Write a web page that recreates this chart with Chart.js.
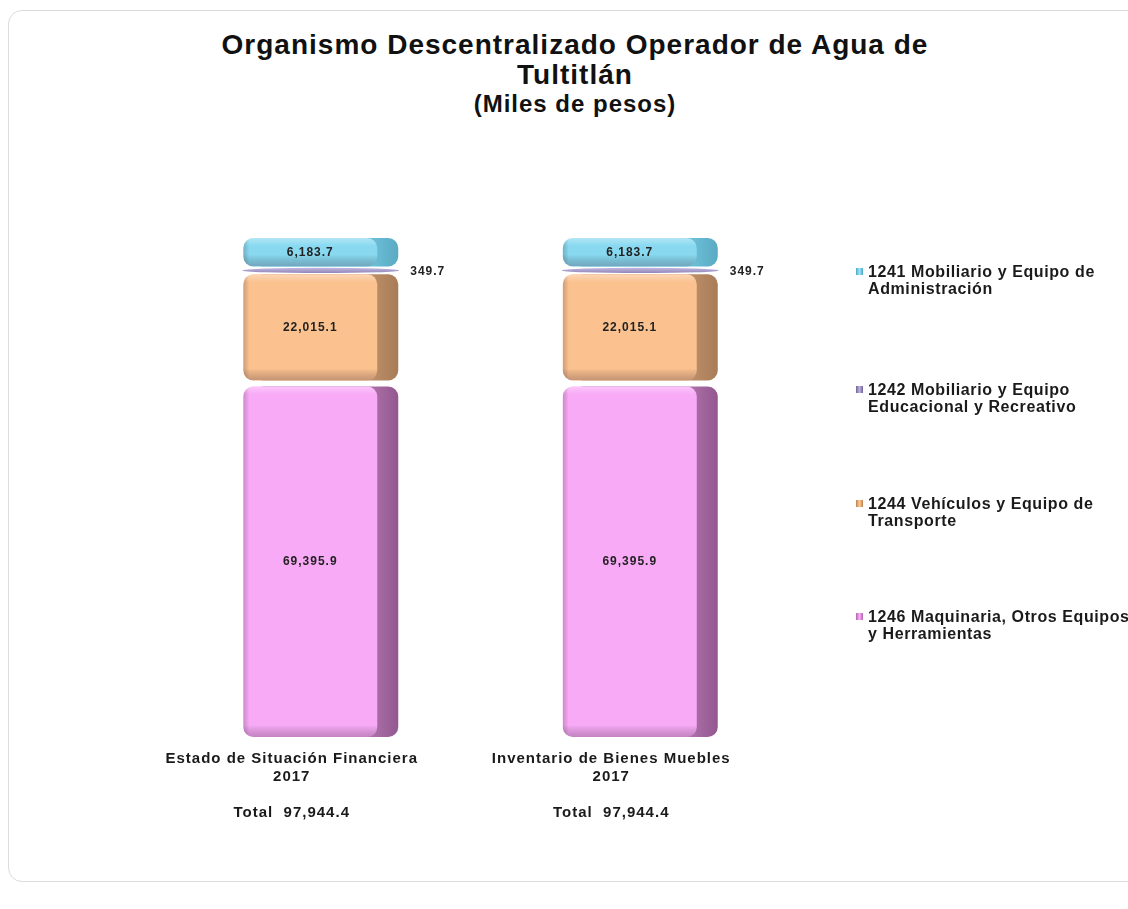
<!DOCTYPE html>
<html>
<head>
<meta charset="utf-8">
<script src="https://cdn.jsdelivr.net/npm/chart.js@4.4.0/dist/chart.umd.min.js"></script>
<style>
  html, body { margin: 0; padding: 0; background: #fff; overflow: hidden; }
  #wrap { position: relative; width: 1128px; height: 909px; font-family: "Liberation Sans", Arial, sans-serif; }
  #card { position: absolute; left: 8px; top: 10px; width: 1200px; height: 870px;
          border: 1px solid #dcdcdc; border-radius: 14px; }
  #chart { position: absolute; left: 0; top: 0; }
  .title { position: absolute; left: 175px; width: 800px; text-align: center; font-weight: bold;
           color: #111; letter-spacing: 1px; white-space: nowrap; }
  #t1 { top: 30px; font-size: 28px; line-height: 30px; }
  #t2 { top: 91px; font-size: 24px; line-height: 26px; }
  .legend-item { position: absolute; left: 856px; font-weight: bold; font-size: 16px;
                 letter-spacing: 0.6px; line-height: 17px; color: #1a1a1a; }
  .legend-item .box { position: absolute; left: 0; top: 5px; width: 7px; height: 7px; }
  .legend-item .txt { padding-left: 12px; white-space: nowrap; }
</style>
</head>
<body>
<div id="wrap">
  <div id="card"></div>
  <div class="title" id="t1"></div>
  <div class="title" id="t2"></div>
  <canvas id="chart" width="1128" height="909"></canvas>
  <div id="legend"></div>
</div>
<script>
const titleLines = ['Organismo Descentralizado Operador de Agua de', 'Tultitlán'];
const subtitle = '(Miles de pesos)';

const categories = ['Estado de Situación Financiera', 'Inventario de Bienes Muebles'];
const years = ['2017', '2017'];

// values in miles de pesos, stacked bottom -> top
const maquinaria = [69395.9, 69395.9];     // 1246
const vehiculos = [22015.1, 22015.1];      // 1244
const educacional = [349.7, 349.7];        // 1242
const administracion = [6183.7, 6183.7];   // 1241

const seriesNames = [
  ['1241 Mobiliario y Equipo de', 'Administración'],
  ['1242 Mobiliario y Equipo', 'Educacional y Recreativo'],
  ['1244 Vehículos y Equipo de', 'Transporte'],
  ['1246 Maquinaria, Otros Equipos', 'y Herramientas']
];

const FONT = '"Liberation Sans", Arial, sans-serif';
const fmt = v => v.toLocaleString('en-US', { minimumFractionDigits: 1, maximumFractionDigits: 1 });
const totals = categories.map((c, i) => maquinaria[i] + vehiculos[i] + educacional[i] + administracion[i]);

document.getElementById('t1').innerHTML = titleLines.join('<br>');
document.getElementById('t2').textContent = subtitle;

const DEPTH = 21;
const GAP = 3;

// draws the fake 3D stacked boxes from the bar elements
const bars3d = {
  id: 'bars3d',
  afterDatasetsDraw(chart) {
    const ctx = chart.ctx;
    const area = chart.chartArea;
    chart.data.datasets.forEach((ds, di) => {
      const meta = chart.getDatasetMeta(di);
      meta.data.forEach((bar, i) => {
        const { x, y, base, width } = bar.getProps(['x', 'y', 'base', 'width'], true);
        const left = x - width / 2;
        let top = Math.min(y, base);
        let bottom = Math.max(y, base);
        ctx.save();
        ctx.letterSpacing = '1px';
        if (ds.thin) {
          const cy = (top + bottom) / 2;
          const g = ctx.createLinearGradient(0, cy - 3, 0, cy + 3);
          g.addColorStop(0, ds.front);
          g.addColorStop(1, ds.side);
          ctx.fillStyle = g;
          ctx.beginPath();
          ctx.ellipse(x, cy, width / 2 + 1, 2.6, 0, 0, Math.PI * 2);
          ctx.fill();
          ctx.fillStyle = '#222';
          ctx.font = 'bold 12px ' + FONT;
          ctx.textAlign = 'left';
          ctx.textBaseline = 'middle';
          ctx.fillText(fmt(ds.data[i]), left + width + 12, cy + 1);
          ctx.restore();
          return;
        }
        if (top > area.top + 1) top += GAP;
        if (bottom < area.bottom - 1) bottom -= GAP;
        const h = bottom - top;
        const r = Math.min(10, h / 2);
        const fw = width - DEPTH;

        // side face
        const sg = ctx.createLinearGradient(left + fw - 6, 0, left + width, 0);
        sg.addColorStop(0, ds.side);
        sg.addColorStop(1, ds.sideDark);
        ctx.fillStyle = sg;
        ctx.beginPath();
        ctx.roundRect(left + 10, top, width - 10, h, r);
        ctx.fill();

        // front face
        ctx.beginPath();
        ctx.roundRect(left, top, fw, h, r);
        ctx.fillStyle = ds.front;
        ctx.fill();
        ctx.save();
        ctx.clip();
        const bg = ctx.createLinearGradient(0, bottom - 12, 0, bottom);
        bg.addColorStop(0, 'rgba(0,0,0,0)');
        bg.addColorStop(1, 'rgba(60,30,60,0.28)');
        ctx.fillStyle = bg;
        ctx.fillRect(left, bottom - 12, fw, 12);
        const lg = ctx.createLinearGradient(left, 0, left + 6, 0);
        lg.addColorStop(0, 'rgba(60,30,60,0.22)');
        lg.addColorStop(1, 'rgba(0,0,0,0)');
        ctx.fillStyle = lg;
        ctx.fillRect(left, top, 6, h);
        const tg = ctx.createLinearGradient(0, top, 0, top + 8);
        tg.addColorStop(0, 'rgba(255,255,255,0.35)');
        tg.addColorStop(1, 'rgba(255,255,255,0)');
        ctx.fillStyle = tg;
        ctx.fillRect(left, top, fw, 8);
        ctx.restore();

        ctx.fillStyle = '#222';
        ctx.font = 'bold 12px ' + FONT;
        ctx.textAlign = 'center';
        ctx.textBaseline = 'middle';
        ctx.fillText(fmt(ds.data[i]), left + fw / 2, (top + bottom) / 2);
        ctx.restore();
      });
    });
  }
};

const spacing = {
  id: 'spacing',
  beforeLayout(chart) { chart.ctx.letterSpacing = '1px'; },
  beforeDraw(chart) { chart.ctx.letterSpacing = '1px'; }
};

const clear = 'rgba(0,0,0,0)';
new Chart(document.getElementById('chart'), {
  type: 'bar',
  data: {
    labels: categories,
    datasets: [
      { label: seriesNames[3].join(' '), data: maquinaria, backgroundColor: clear,
        front: '#f8aaf6', side: '#ad70aa', sideDark: '#93588f' },
      { label: seriesNames[2].join(' '), data: vehiculos, backgroundColor: clear,
        front: '#fbc18f', side: '#bd8f68', sideDark: '#a77c58' },
      { label: seriesNames[1].join(' '), data: educacional, backgroundColor: clear, thin: true,
        front: '#c7bce3', side: '#8d82b5', sideDark: '#8d82b5' },
      { label: seriesNames[0].join(' '), data: administracion, backgroundColor: clear,
        front: '#88d9f0', side: '#6cc0d8', sideDark: '#5aaac2' }
    ]
  },
  options: {
    responsive: false,
    animation: false,
    barThickness: 155,
    layout: { padding: { left: 161, right: 328, top: 238, bottom: 74 } },
    plugins: {
      legend: { display: false },
      tooltip: { enabled: false }
    },
    scales: {
      x: {
        stacked: true,
        grid: { display: false, drawTicks: false },
        border: { display: false },
        ticks: {
          autoSkip: false,
          maxRotation: 0,
          padding: 13,
          labelOffset: -29,
          color: '#1a1a1a',
          font: { family: FONT, size: 15, weight: 'bold', lineHeight: 1.2 },
          callback: (v, i) => [categories[i], years[i], '', 'Total  ' + fmt(totals[i])]
        }
      },
      y: {
        stacked: true,
        display: false,
        min: 0,
        max: Math.max(...totals)
      }
    }
  },
  plugins: [spacing, bars3d]
});

// legend, top to bottom as in the original
const legendTops = [263, 381, 495, 608];
const legendColors = [['#9fe3f5', '#4aa9c8'], ['#bdb2dc', '#6f6398'], ['#fcc99a', '#c0804a'], ['#f8b2f4', '#b461b0']];
const legendEl = document.getElementById('legend');
seriesNames.forEach((lines, i) => {
  const item = document.createElement('div');
  item.className = 'legend-item';
  item.style.top = legendTops[i] + 'px';
  const box = document.createElement('span');
  box.className = 'box';
  box.style.background = 'linear-gradient(90deg,' + legendColors[i][1] + ',' + legendColors[i][0] + ',' + legendColors[i][1] + ')';
  const txt = document.createElement('div');
  txt.className = 'txt';
  txt.innerHTML = lines.join('<br>');
  item.appendChild(box);
  item.appendChild(txt);
  legendEl.appendChild(item);
});
</script>
</body>
</html>
